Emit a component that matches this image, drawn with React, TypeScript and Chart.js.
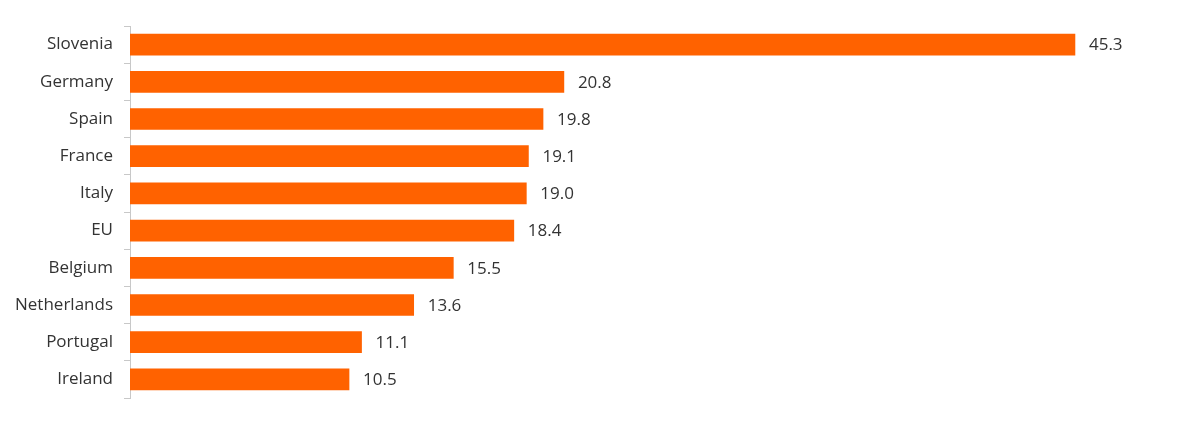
import { useEffect, useRef } from "react"
import { Chart, registerables } from "chart.js"

Chart.register(...registerables)

const countries = [
  "Slovenia",
  "Germany",
  "Spain",
  "France",
  "Italy",
  "EU",
  "Belgium",
  "Netherlands",
  "Portugal",
  "Ireland",
]
const values = [45.3, 20.8, 19.8, 19.1, 19.0, 18.4, 15.5, 13.6, 11.1, 10.5]

const FONT = "'Open Sans', sans-serif"

// draws the value at the end of each bar
const valueLabels = {
  id: "valueLabels",
  afterDatasetsDraw(chart) {
    const { ctx } = chart
    const meta = chart.getDatasetMeta(0)
    ctx.save()
    ctx.font = `17px ${FONT}`
    ctx.fillStyle = "#333"
    ctx.textAlign = "left"
    ctx.textBaseline = "middle"
    meta.data.forEach((bar, i) => {
      ctx.fillText(values[i].toFixed(1), bar.x + 14, bar.y + 1)
    })
    ctx.restore()
  },
}

export default function App() {
  const chartRef = useRef(null)
  const chartInstance = useRef(null)

  useEffect(() => {
    document.body.style.margin = "0"
    if (!chartRef.current) return
    if (chartInstance.current) chartInstance.current.destroy()

    chartInstance.current = new Chart(chartRef.current.getContext("2d"), {
      type: "bar",
      data: {
        labels: countries,
        datasets: [
          {
            data: values,
            backgroundColor: "#FF6200",
            borderWidth: 0,
            barThickness: 21,
          },
        ],
      },
      options: {
        indexAxis: "y",
        responsive: true,
        maintainAspectRatio: false,
        animation: false,
        layout: {
          padding: { top: 26, bottom: 27, right: 27, left: 0 },
        },
        plugins: {
          legend: { display: false },
          tooltip: { enabled: false },
        },
        scales: {
          x: {
            display: false,
            min: 0,
            max: 50,
          },
          y: {
            afterFit: (axis) => {
              axis.width = 130
            },
            border: { display: true, color: "#c8c8c8", width: 1 },
            grid: {
              offset: true,
              drawOnChartArea: false,
              drawTicks: true,
              tickLength: 6,
              color: "#c8c8c8",
            },
            ticks: {
              color: "#333",
              padding: 11,
              font: { family: FONT, size: 17 },
            },
          },
        },
      },
      plugins: [valueLabels],
    })

    return () => {
      if (chartInstance.current) chartInstance.current.destroy()
    }
  }, [])

  return (
    <div style={{ width: 1200, height: 425, position: "relative" }}>
      <canvas ref={chartRef} />
    </div>
  )
}
